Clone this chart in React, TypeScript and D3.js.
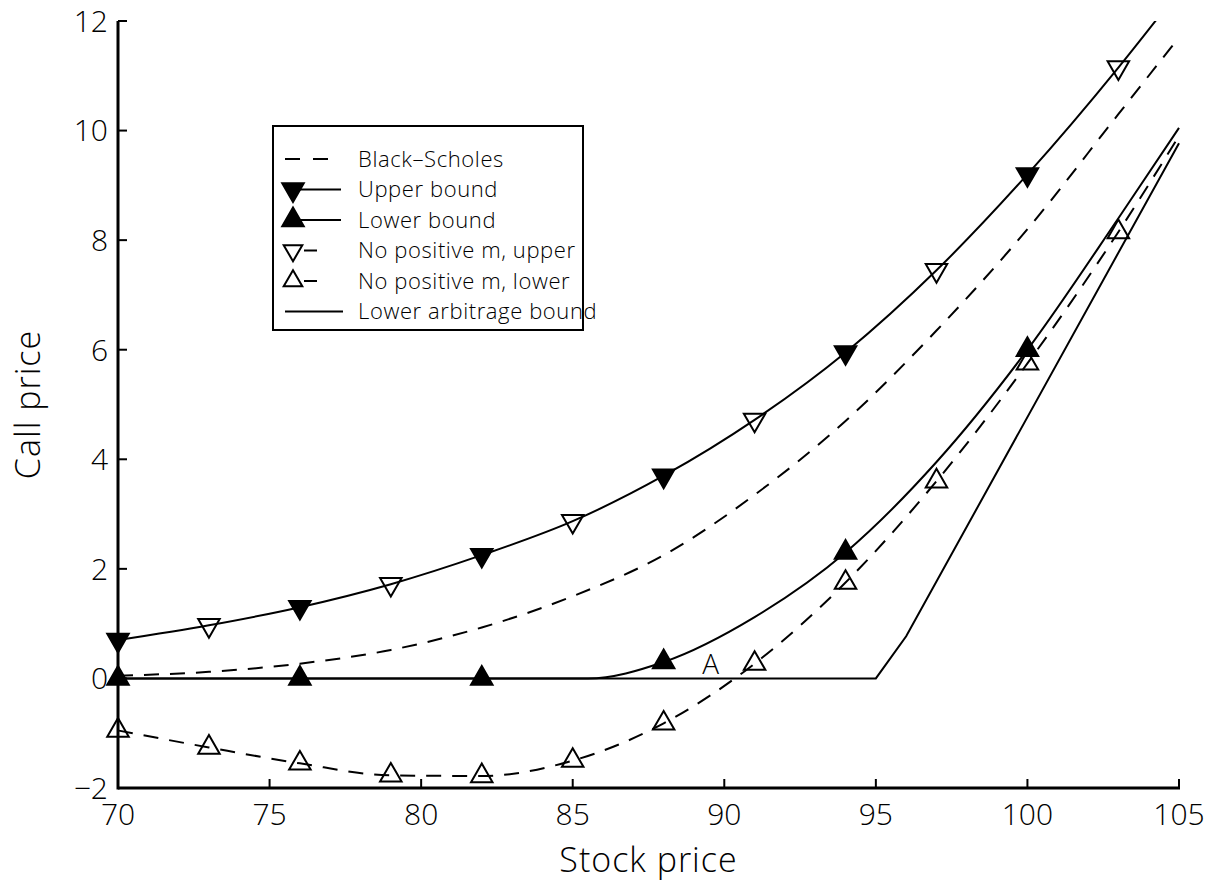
import React from 'react';
import * as d3 from 'd3';

const width = 1219;
const height = 889;

// stock prices where the markers sit
const filledX = [70, 76, 82, 88, 94, 100];
const openX = [70, 73, 76, 79, 82, 85, 88, 91, 94, 97, 100, 103];
const openUpperX = [73, 79, 85, 91, 97, 103];

// marker values
const upperBound = [0.7, 1.3, 2.25, 3.7, 5.95, 9.2];
const lowerBound = [0, 0, 0, 0.3, 2.3, 6.0];
const noPosUpper = [0.97, 1.72, 2.87, 4.72, 7.45, 11.15];
const noPosLower = [-0.95, -1.26, -1.55, -1.77, -1.78, -1.5, -0.82, 0.27, 1.75, 3.6, 5.75, 8.15];

// curves
const upperCurveX = [70, 73, 76, 79, 82, 85, 88, 91, 94, 97, 100, 103, 105];
const upperCurveY = [0.7, 0.97, 1.3, 1.72, 2.25, 2.87, 3.7, 4.72, 5.95, 7.45, 9.2, 11.15, 12.55];
const lowerCurveX = [70, 82, 85.5, 88, 91, 94, 97, 100, 103, 105];
const lowerCurveY = [0, 0, 0, 0.3, 1.12, 2.3, 3.95, 6.0, 8.4, 10.05];
const noPosLowerCurveX = [70, 73, 76, 79, 82, 85, 88, 91, 94, 97, 100, 103, 105];
const noPosLowerCurveY = [-0.95, -1.26, -1.55, -1.77, -1.78, -1.5, -0.82, 0.27, 1.75, 3.6, 5.75, 8.15, 9.9];
const bsX = [70, 73, 76, 79, 82, 85, 88, 91, 94, 97, 100, 103, 105];
const bsY = [0.05, 0.12, 0.27, 0.52, 0.93, 1.5, 2.25, 3.35, 4.7, 6.35, 8.2, 10.3, 11.7];
const arbX = [70, 95, 96, 105];
const arbY = [0, 0, 0.77, 9.77];

const xTicks = [70, 75, 80, 85, 90, 95, 100, 105];
const yTicks = [-2, 0, 2, 4, 6, 8, 10, 12];

const legendLabels = [
  'Black\u2013Scholes',
  'Upper bound',
  'Lower bound',
  'No positive m, upper',
  'No positive m, lower',
  'Lower arbitrage bound',
];

const font = "'Open Sans', 'DejaVu Sans', sans-serif";

const zip = (xs: number[], ys: number[]) => xs.map((x, i) => [x, ys[i]] as [number, number]);

const App = () => {
  const left = 118, right = 1179, top = 21, bottom = 788;

  const xScale = d3.scaleLinear().domain([70, 105]).range([left, right]);
  const yScale = d3.scaleLinear().domain([-2, 12]).range([bottom, top]);

  const smooth = d3.line<[number, number]>()
    .x(d => xScale(d[0]))
    .y(d => yScale(d[1]))
    .curve(d3.curveMonotoneX);
  const straight = d3.line<[number, number]>()
    .x(d => xScale(d[0]))
    .y(d => yScale(d[1]));

  const tri = d3.symbol().type(d3.symbolTriangle).size(200)();
  const triSmall = d3.symbol().type(d3.symbolTriangle).size(150)();

  const dash = '15,11';

  const up = (x: number, y: number, filled: boolean, k: string, small = false) => (
    <path key={k} d={(small ? triSmall : tri) || ''} transform={`translate(${x},${y})`}
      fill={filled ? '#000' : 'none'} stroke="#000" strokeWidth={2} />
  );
  const down = (x: number, y: number, filled: boolean, k: string, small = false) => (
    <path key={k} d={(small ? triSmall : tri) || ''} transform={`translate(${x},${y}) rotate(180)`}
      fill={filled ? '#000' : 'none'} stroke="#000" strokeWidth={2} />
  );

  // legend layout
  const lgX = 273, lgY = 126, lgW = 310, lgH = 204;
  const rowY = (i: number) => 159 + i * 30.5;

  return (
    <svg width={width} height={height} style={{ position: 'absolute', left: 0, top: 0, background: '#fff' }}>
      <defs>
        <clipPath id="plot">
          <rect x={left} y={top} width={right - left + 4} height={bottom - top} />
        </clipPath>
      </defs>

      <g clipPath="url(#plot)" fill="none" stroke="#000" strokeWidth={2}>
        <path d={smooth(zip(bsX, bsY)) || ''} strokeDasharray={dash} />
        <path d={smooth(zip(upperCurveX, upperCurveY)) || ''} />
        <path d={smooth(zip(lowerCurveX, lowerCurveY)) || ''} />
        <path d={smooth(zip(noPosLowerCurveX, noPosLowerCurveY)) || ''} strokeDasharray={dash} />
        <path d={straight(zip(arbX, arbY)) || ''} />
      </g>

      <g>
        {filledX.map((x, i) => down(xScale(x), yScale(upperBound[i]), true, 'ub' + i))}
        {filledX.map((x, i) => up(xScale(x), yScale(lowerBound[i]), true, 'lb' + i))}
        {openUpperX.map((x, i) => down(xScale(x), yScale(noPosUpper[i]), false, 'nu' + i))}
        {openX.map((x, i) => up(xScale(x), yScale(noPosLower[i]), false, 'nl' + i))}
      </g>

      <text x={xScale(89.55)} y={yScale(0.27) + 10} fontFamily={font} fontWeight={300} fontSize={28}
        textAnchor="middle">A</text>

      {/* axes */}
      <g stroke="#000" strokeWidth={3} fill="none">
        <line x1={left} y1={top} x2={left} y2={bottom + 1.5} />
        <line x1={left} y1={bottom} x2={right + 1} y2={bottom} />
      </g>
      <g stroke="#000" strokeWidth={2}>
        {yTicks.map(t => (
          <line key={'yt' + t} x1={left} x2={left + 9} y1={yScale(t)} y2={yScale(t)} />
        ))}
        {xTicks.map(t => (
          <line key={'xt' + t} x1={xScale(t)} x2={xScale(t)} y1={bottom} y2={bottom - 9} />
        ))}
      </g>
      <g fontFamily={font} fontWeight={300} fontSize={30} fill="#000">
        {yTicks.map(t => (
          <text key={'yl' + t} x={left - 10} y={yScale(t)} dy="0.36em" textAnchor="end">
            {t < 0 ? '\u2212' + Math.abs(t) : t}
          </text>
        ))}
        {xTicks.map(t => (
          <text key={'xl' + t} x={xScale(t)} y={bottom + 37} textAnchor="middle">{t}</text>
        ))}
      </g>
      <text x={(left + right) / 2} y={872} fontFamily={font} fontWeight={300} fontSize={34}
        textAnchor="middle" letterSpacing={1}>Stock price</text>
      <text transform={`translate(40,${(top + bottom) / 2}) rotate(-90)`} fontFamily={font}
        fontWeight={300} fontSize={34} textAnchor="middle" letterSpacing={1}>Call price</text>

      {/* legend */}
      <rect x={lgX} y={lgY} width={lgW} height={lgH} fill="#fff" stroke="#000" strokeWidth={2} />
      <g stroke="#000" strokeWidth={2}>
        <line x1={285} x2={300} y1={rowY(0)} y2={rowY(0)} />
        <line x1={313} x2={328} y1={rowY(0)} y2={rowY(0)} />
        <line x1={293} x2={341} y1={rowY(1)} y2={rowY(1)} />
        <line x1={293} x2={341} y1={rowY(2)} y2={rowY(2)} />
        <line x1={304} x2={317} y1={rowY(3)} y2={rowY(3)} />
        <line x1={304} x2={317} y1={rowY(4)} y2={rowY(4)} />
        <line x1={285} x2={343} y1={rowY(5)} y2={rowY(5)} />
      </g>
      {down(293, rowY(1), true, 'lg1')}
      {up(293, rowY(2), true, 'lg2')}
      {down(293, rowY(3), false, 'lg3', true)}
      {up(293, rowY(4), false, 'lg4', true)}
      <g fontFamily={font} fontWeight={300} fontSize={22} fill="#000" letterSpacing={0.6}>
        {legendLabels.map((s, i) => (
          <text key={s} x={358} y={rowY(i)} dy="0.36em">{s}</text>
        ))}
      </g>
    </svg>
  );
};

export default App;
